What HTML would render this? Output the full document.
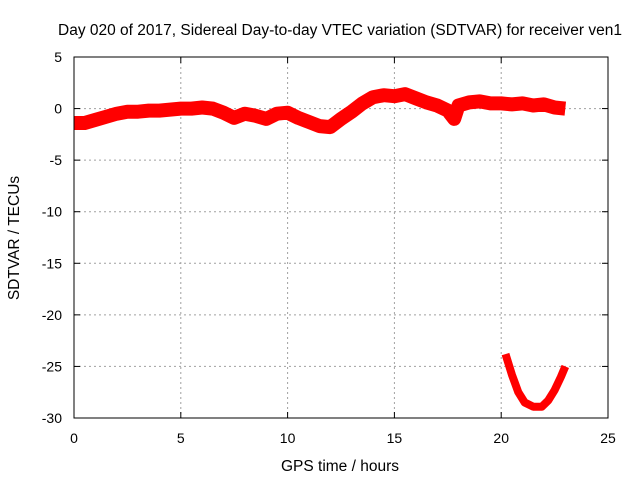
<!DOCTYPE html>
<html><head><meta charset="utf-8"><style>
body{margin:0;background:#fff}
svg{display:block;font-family:"Liberation Sans",sans-serif;font-size:14px}
</style></head><body>
<svg id="c" width="640" height="480">
<text x="340" y="35" text-anchor="middle" font-size="15.5">Day 020 of 2017, Sidereal Day-to-day VTEC variation (SDTVAR) for receiver ven1</text>
<text x="340" y="471" text-anchor="middle" font-size="15.5">GPS time / hours</text>
<text transform="translate(19,238) rotate(-90)" text-anchor="middle" font-size="15.5">SDTVAR / TECUs</text>
<g id="grid"></g><g id="ticks"></g><g id="series"></g>
<rect x="74" y="57" width="534" height="361" fill="none" stroke="#000"/>
</svg>
<script>
const xTicks=[0,5,10,15,20,25];
const yTicks=[5,0,-5,-10,-15,-20,-25,-30];
const bandHours=[0,0.5,1,1.5,2,2.5,3,3.5,4,4.5,5,5.5,6,6.5,7,7.5,8,8.5,9,9.5,10,10.5,11,11.5,12,12.5,13,13.5,14,14.5,15,15.5,16,16.5,17,17.5,17.8,18,18.5,19,19.5,20,20.5,21,21.5,22,22.5,23];
const bandValues=[-1.4,-1.4,-1.1,-0.8,-0.5,-0.3,-0.3,-0.2,-0.2,-0.1,0.0,0.0,0.1,0.0,-0.4,-0.9,-0.5,-0.7,-1.0,-0.5,-0.4,-0.9,-1.3,-1.7,-1.8,-1.0,-0.3,0.5,1.1,1.3,1.2,1.4,1.0,0.6,0.3,-0.2,-1.0,0.3,0.6,0.7,0.5,0.5,0.4,0.5,0.3,0.4,0.1,0.0];
const arcHours=[20.2,20.5,20.8,21.1,21.5,21.9,22.2,22.5,22.8,23.0];
const arcValues=[-23.8,-25.8,-27.5,-28.5,-28.9,-28.9,-28.3,-27.3,-26.0,-25.0];
const NS='http://www.w3.org/2000/svg';
const X=h=>74+(h-0)/25*534;
const Y=v=>57+(5-v)/35*361;
function mk(t,a,p){const e=document.createElementNS(NS,t);for(const k in a)e.setAttribute(k,a[k]);p.appendChild(e);return e;}
const grid=document.getElementById('grid'),ticks=document.getElementById('ticks'),ser=document.getElementById('series');
xTicks.forEach(t=>{
 if(t>0&&t<25){const l=mk('line',{x1:X(t),x2:X(t),y1:57,y2:418,stroke:'#a0a0a0','stroke-dasharray':'2,3'},grid);
 
 }
 mk('line',{x1:X(t),x2:X(t),y1:418,y2:412,stroke:'#000'},ticks);
 mk('line',{x1:X(t),x2:X(t),y1:57,y2:63,stroke:'#000'},ticks);
 const tx=mk('text',{x:X(t),y:443,'text-anchor':'middle'},ticks);tx.textContent=t;
 
 
});
yTicks.forEach(t=>{
 if(t<5&&t>-30){const l=mk('line',{x1:74,x2:608,y1:Y(t),y2:Y(t),stroke:'#a0a0a0','stroke-dasharray':'2,3'},grid);
 
 }
 mk('line',{x1:74,x2:80,y1:Y(t),y2:Y(t),stroke:'#000'},ticks);
 mk('line',{x1:608,x2:602,y1:Y(t),y2:Y(t),stroke:'#000'},ticks);
 const tx=mk('text',{x:62,y:Y(t)+5,'text-anchor':'end'},ticks);tx.textContent=t;
 
 
});
function path(hs,vs,w,name){
 const d=hs.map((h,i)=>(i?'L':'M')+X(h).toFixed(1)+','+Y(vs[i]).toFixed(1)).join('');
 const p=mk('path',{d:d,fill:'none',stroke:'#ff0000','stroke-width':w,'stroke-linejoin':'round','stroke-linecap':'butt'},ser);
 
 
}
path(bandHours,bandValues,14,'sdtvar-main-series');
path(arcHours,arcValues,8,'sdtvar-arc-series');
</script>
</body></html>
